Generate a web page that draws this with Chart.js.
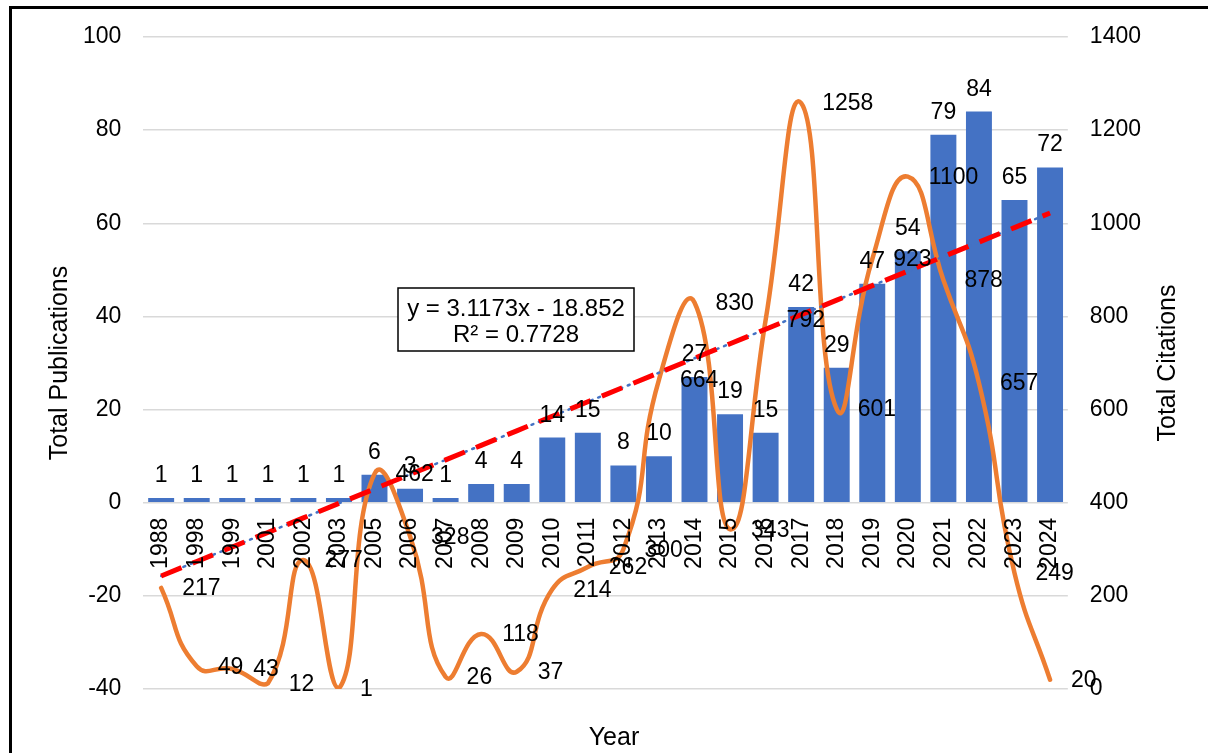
<!DOCTYPE html>
<html>
<head>
<meta charset="utf-8">
<script src="https://cdn.jsdelivr.net/npm/chart.js@4.4.1/dist/chart.umd.min.js"></script>
<style>
  html, body { margin: 0; padding: 0; background: #fff; overflow: hidden; }
  #wrap { position: relative; width: 1208px; height: 753px; }
  #frame {
    position: absolute; left: 9px; top: 6px;
    width: 1300px; height: 900px;
    border: 3px solid #000; box-sizing: border-box;
  }
  #chart { position: absolute; left: 0; top: 0; }
</style>
</head>
<body>
<div id="wrap">
  <div id="frame"></div>
  <canvas id="chart" width="1208" height="753"></canvas>
</div>
<script>
const years = ['1988', '1998', '1999', '2001', '2002', '2003', '2005', '2006', '2007', '2008',
  '2009', '2010', '2011', '2012', '2013', '2014', '2015', '2016', '2017', '2018',
  '2019', '2020', '2021', '2022', '2023', '2024'];

const publications = [1, 1, 1, 1, 1, 1, 6, 3, 1, 4,
  4, 14, 15, 8, 10, 27, 19, 15, 42, 29,
  47, 54, 79, 84, 65, 72];

const citations = [217, 49, 43, 12, 277, 1, 462, 328, 26, 118,
  37, 214, 262, 300, 664, 830, 343, 792, 1258, 601,
  923, 1100, 878, 657, 249, 20];

// linear trend of publications, as given by the equation label
const TREND_SLOPE = 3.1173;
const TREND_INTERCEPT = -18.852;
const TREND_R2 = 0.7728;
const trendline = years.map((_, i) => TREND_SLOPE * (i + 1) + TREND_INTERCEPT);

const FONT = '"Liberation Sans", Arial, sans-serif';

// value labels, category labels at the zero line, axis titles and trend box
const chartText = {
  id: 'chartText',
  afterDatasetsDraw(chart) {
    const ctx = chart.ctx;
    const xs = chart.scales.x;
    const ys = chart.scales.y;
    const area = chart.chartArea;
    ctx.save();
    ctx.fillStyle = '#000';
    ctx.font = '23px ' + FONT;

    chart.getDatasetMeta(0).data.forEach((bar, i) => {
      ctx.textAlign = 'center';
      ctx.textBaseline = 'alphabetic';
      ctx.fillText(publications[i], bar.x, bar.y - 16);
    });

    chart.getDatasetMeta(1).data.forEach((pt, i) => {
      ctx.textAlign = 'left';
      ctx.textBaseline = 'middle';
      ctx.fillText(citations[i], pt.x + 21, pt.y + 1);
    });

    const y0 = ys.getPixelForValue(0);
    years.forEach((yr, i) => {
      ctx.save();
      ctx.translate(xs.getPixelForValue(i), y0 + 15);
      ctx.rotate(-Math.PI / 2);
      ctx.textAlign = 'right';
      ctx.textBaseline = 'middle';
      ctx.fillText(yr, 0, 0);
      ctx.restore();
    });

    // axis titles
    const midY = (area.top + area.bottom) / 2;
    ctx.font = '25px ' + FONT;
    ctx.textAlign = 'center';
    ctx.textBaseline = 'middle';
    ctx.fillText('Year', 614, 738);
    [['Total Publications', 60], ['Total Citations', 1168]].forEach(([txt, x]) => {
      ctx.save();
      ctx.translate(x, midY);
      ctx.rotate(-Math.PI / 2);
      ctx.fillText(txt, 0, 0);
      ctx.restore();
    });

    // trendline equation box
    ctx.fillStyle = '#fff';
    ctx.fillRect(398, 288, 236, 63);
    ctx.strokeStyle = '#000';
    ctx.lineWidth = 1.5;
    ctx.strokeRect(398, 288, 236, 63);
    ctx.fillStyle = '#000';
    ctx.font = '24px ' + FONT;
    ctx.fillText('y = ' + TREND_SLOPE + 'x - ' + Math.abs(TREND_INTERCEPT), 516, 309);
    ctx.fillText('R\u00B2 = ' + TREND_R2, 516, 335);
    ctx.restore();
  }
};

new Chart(document.getElementById('chart'), {
  type: 'bar',
  data: {
    labels: years,
    datasets: [
      {
        label: 'Total Publications',
        data: publications,
        backgroundColor: '#4472C4',
        categoryPercentage: 1,
        barPercentage: 0.73,
        yAxisID: 'y',
        order: 4
      },
      {
        type: 'line',
        label: 'Total Citations',
        data: citations,
        borderColor: '#ED7D31',
        borderWidth: 4.5,
        tension: 0.5,
        pointRadius: 0,
        borderCapStyle: 'round',
        yAxisID: 'y1',
        order: 3
      },
      {
        type: 'line',
        label: 'Linear (Total Publications)',
        data: trendline,
        borderColor: '#4472C4',
        borderWidth: 2.5,
        borderDash: [2, 6],
        borderCapStyle: 'round',
        pointRadius: 0,
        yAxisID: 'y',
        order: 2
      },
      {
        type: 'line',
        label: 'Trend',
        data: trendline,
        borderColor: '#FF0000',
        borderWidth: 5,
        borderDash: [22, 12],
        pointRadius: 0,
        yAxisID: 'y',
        order: 1
      }
    ]
  },
  options: {
    responsive: false,
    animation: false,
    events: [],
    layout: { padding: { left: 61, right: 45, top: 37, bottom: 64 } },
    plugins: {
      legend: { display: false },
      tooltip: { enabled: false }
    },
    scales: {
      x: {
        display: false,
        offset: true
      },
      y: {
        position: 'left',
        min: -40,
        max: 100,
        ticks: {
          stepSize: 20,
          padding: 22,
          color: '#000',
          font: { size: 23, family: FONT }
        },
        grid: { color: '#d9d9d9', lineWidth: 1.5, drawTicks: false },
        border: { display: false }
      },
      y1: {
        position: 'right',
        min: 0,
        max: 1400,
        ticks: {
          stepSize: 200,
          padding: 22,
          color: '#000',
          font: { size: 23, family: FONT },
          callback: v => String(v)
        },
        grid: { display: false, drawTicks: false },
        border: { display: false }
      }
    }
  },
  plugins: [chartText]
});
</script>
</body>
</html>
